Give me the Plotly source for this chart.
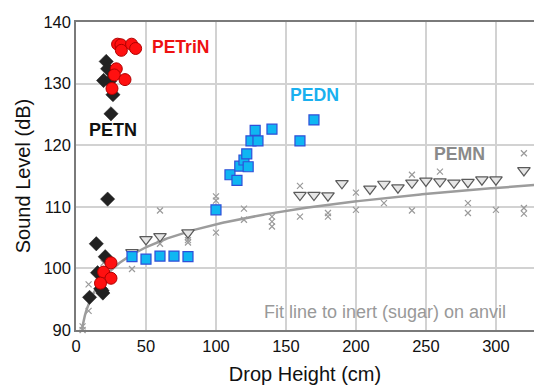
import numpy as np
import plotly.graph_objects as go

# ---- data ----
petn_x = [21.6, 22.6, 19.7, 24.0, 26.4, 25.0, 22.6, 14.5, 20.9, 15.4, 17.6, 18.6, 19.2, 9.7]
petn_y = [133.6, 132.4, 130.5, 130.4, 128.2, 125.1, 111.25, 104.0, 101.9, 99.3, 96.7, 96.4, 96.0, 95.3]

petrin_x = [29.7, 32.1, 32.4, 39.7, 42.6, 28.8, 27.4, 35.0, 25.7, 25.0, 19.7, 25.0, 17.5]
petrin_y = [136.4, 136.3, 135.4, 136.4, 135.7, 132.4, 131.4, 130.65, 129.2, 100.9, 99.4, 98.4, 97.6]

pedn_x = [40, 50, 60, 70, 80, 100, 110, 115, 117, 120, 122, 123, 125, 128, 130, 140, 160, 170]
pedn_y = [101.9, 101.5, 102.0, 102.0, 101.9, 109.5, 115.2, 114.3, 116.6, 117.6, 118.6, 116.5,
          120.7, 122.4, 120.7, 122.6, 120.7, 124.1]

pemn_x = [40, 50, 60, 80, 160, 170, 180, 190, 210, 220, 230, 240, 250, 260, 270, 280, 290, 300, 320]
pemn_y = [102.6, 104.7, 105.2, 105.8, 111.9, 111.9, 111.8, 113.8, 112.9, 113.7, 113.1, 113.9,
          114.2, 114.1, 113.9, 114.0, 114.4, 114.4, 115.9]

sugar_x = [4.7, 4.7, 9, 9, 17.4, 19.7, 40, 40, 60, 60, 80, 80, 80, 100, 100, 100,
           120, 120, 140, 140, 140, 160, 160, 180, 180, 200, 200, 220, 240, 240,
           260, 280, 280, 300, 320, 320, 320]
sugar_y = [90.0, 90.6, 97.4, 93.1, 98.8, 100.9, 99.9, 101.6, 109.4, 104.0, 105.1, 104.2, 104.6,
           111.7, 111.0, 105.8, 109.7, 107.9, 108.4, 107.6, 106.8, 113.4, 108.4, 109.0, 108.4,
           112.3, 109.5, 110.6, 115.2, 109.4, 115.7, 110.6, 109.0, 109.5, 118.7, 109.8, 108.9]

# logarithmic fit to inert (sugar): y = fit_a + fit_b * ln(x)
fit_a = 82.43
fit_b = 5.37
fit_xmin, fit_xmax = 4.2, 330

x_ticks = [0, 50, 100, 150, 200, 250, 300]
y_ticks = [90, 100, 110, 120, 130, 140]

FONT = "Liberation Sans, Arial, sans-serif"

fig = go.Figure()

fig.add_trace(go.Scatter(
    x=sugar_x, y=sugar_y, mode="markers", cliponaxis=False,
    marker=dict(symbol="x-thin", size=6, line=dict(color="#9a9a9a", width=1.2)),
    showlegend=False))

fx = np.linspace(fit_xmin, fit_xmax, 300)
fig.add_trace(go.Scatter(
    x=fx, y=fit_a + fit_b * np.log(fx), mode="lines",
    line=dict(color="#9c9c9c", width=2.5), showlegend=False))

fig.add_trace(go.Scatter(
    x=pemn_x, y=pemn_y, mode="markers",
    marker=dict(symbol="triangle-down", size=11, color="#e6e6e6",
                line=dict(color="#5a5a5a", width=1.2)),
    showlegend=False))

fig.add_trace(go.Scatter(
    x=pedn_x, y=pedn_y, mode="markers",
    marker=dict(symbol="square", size=10, color="#0fb6f2",
                line=dict(color="#2f4fd8", width=1.2)),
    showlegend=False))

fig.add_trace(go.Scatter(
    x=petn_x, y=petn_y, mode="markers",
    marker=dict(symbol="diamond", size=11, color="#222222",
                line=dict(color="#222222", width=0.5)),
    showlegend=False))

fig.add_trace(go.Scatter(
    x=petrin_x, y=petrin_y, mode="markers",
    marker=dict(symbol="circle", size=12, color="#ff1010",
                line=dict(color="#b00000", width=1)),
    showlegend=False))

annos = [
    dict(x=74.5, y=136.0, text="<b>PETriN</b>", color="#ee1111", size=17.5),
    dict(x=26.6, y=122.5, text="<b>PETN</b>", color="#111111", size=18),
    dict(x=170.7, y=128.2, text="<b>PEDN</b>", color="#1ab0ef", size=17.7),
    dict(x=274, y=118.5, text="<b>PEMN</b>", color="#8a8a8a", size=17.7),
    dict(x=221, y=93.0, text="Fit line to inert (sugar) on anvil", color="#999999", size=18),
]
for a in annos:
    fig.add_annotation(x=a["x"], y=a["y"], text=a["text"], showarrow=False,
                       xanchor="center", yanchor="middle",
                       font=dict(family=FONT, size=a["size"], color=a["color"]))

fig.update_layout(
    width=534, height=385,
    margin=dict(l=76, r=0, t=22, b=55),
    paper_bgcolor="white", plot_bgcolor="white",
    font=dict(family=FONT, color="#111111"),
)
fig.update_xaxes(
    range=[0, 327.2], tickvals=x_ticks, ticks="", showgrid=True,
    gridcolor="#d2d2d2", gridwidth=1.5, zeroline=False,
    showline=True, linecolor="#7a7a7a", linewidth=1.5, mirror=True,
    tickfont=dict(size=16.5, family=FONT, color="#111111"),
    title=dict(text="Drop Height (cm)", font=dict(size=20, family=FONT, color="#111111"), standoff=13),
)
fig.update_yaxes(
    range=[90, 140], tickvals=y_ticks, ticks="", showgrid=True,
    gridcolor="#d2d2d2", gridwidth=1.5, zeroline=False,
    showline=True, linecolor="#7a7a7a", linewidth=1.5,
    tickfont=dict(size=16.5, family=FONT, color="#111111"),
    title=dict(text="Sound Level (dB)", font=dict(size=20, family=FONT, color="#111111"), standoff=7),
)

fig.write_html("out.html")
